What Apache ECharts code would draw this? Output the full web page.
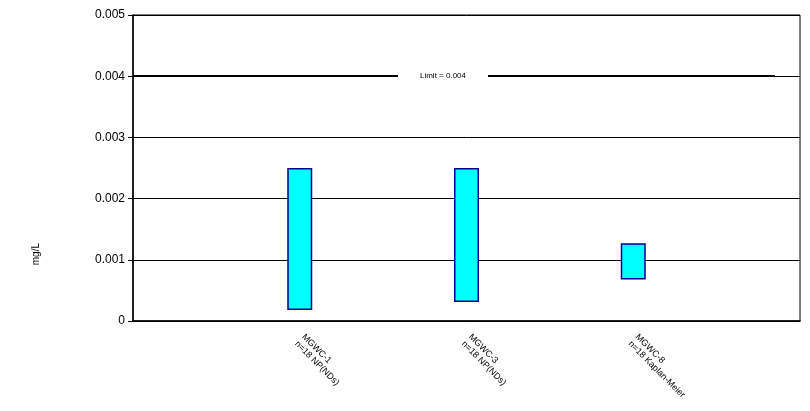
<!DOCTYPE html>
<html>
<head>
<meta charset="utf-8">
<script src="https://cdn.jsdelivr.net/npm/echarts@6/dist/echarts.min.js"></script>
<style>html,body{margin:0;padding:0;background:#fff}#c{width:810px;height:411px}</style>
</head>
<body>
<div id="c"></div>
<script>
// Data
var categories = ['', 'MGWC-1\nn=18 NP(NDs)', 'MGWC-3\nn=18 NP(NDs)', 'MGWC-8\nn=18 Kaplan-Meier', ''];
var lowValues  = [null, 0.00018, 0.00031, 0.00068, null];
var highValues = [null, 0.0025, 0.0025, 0.00127, null];
var limitValue = 0.004;
var limitStart = 0;
var limitEnd = 3.85;
var limitLabel = 'Limit = 0.004';
var yTicks = ['0', '0.001', '0.002', '0.003', '0.004', '0.005'];
var yAxisName = 'mg/L';

var rangeValues = highValues.map(function (h, i) {
  return (h == null || lowValues[i] == null) ? null : +(h - lowValues[i]).toFixed(6);
});

var chart = echarts.init(document.getElementById('c'), null, {renderer: 'canvas'});
var font = 'Liberation Sans, Arial, sans-serif';
chart.setOption({
  animation: false,
  backgroundColor: '#fff',
  textStyle: {fontFamily: font},
  grid: {left: 133, right: 10, top: 15, bottom: 90, show: true, borderColor: '#000', borderWidth: 1, backgroundColor: 'transparent'},
  xAxis: [{
    type: 'category',
    data: categories,
    boundaryGap: false,
    axisLine: {lineStyle: {color: '#000', width: 1.5}},
    axisTick: {show: false},
    axisLabel: {
      rotate: -45, fontSize: 9, color: '#000', margin: 18, fontFamily: font,
      interval: 0, align: 'left', lineHeight: 10
    },
    splitLine: {show: false}
  }, {
    type: 'value', min: 0, max: categories.length - 1, show: false
  }],
  yAxis: {
    type: 'value',
    min: 0, max: 0.005, interval: 0.001,
    axisLine: {show: true, lineStyle: {color: '#000', width: 1.5}},
    axisTick: {show: true, inside: false, length: 5, lineStyle: {color: '#000'}},
    axisLabel: {
      fontSize: 12, color: '#000', margin: 8, fontFamily: font,
      formatter: function (v) { return yTicks[Math.round(v / 0.001)]; }
    },
    splitLine: {show: true, lineStyle: {color: '#000', width: 1}}
  },
  graphic: [{
    type: 'text', left: 31, top: 243, rotation: Math.PI / 2,
    style: {text: yAxisName, fontSize: 10, fill: '#000', fontFamily: font}
  }],
  series: [{
    type: 'bar', stack: 'r', data: lowValues, barWidth: 25,
    itemStyle: {color: 'transparent'}, silent: true
  }, {
    type: 'bar', stack: 'r', data: rangeValues, barWidth: 25,
    itemStyle: {color: '#00FFFF', borderColor: '#000090', borderWidth: 1.5}
  }, {
    type: 'line', xAxisIndex: 1, data: [], silent: true,
    markLine: {
      symbol: 'none', silent: true,
      lineStyle: {color: '#000', width: 2, type: 'solid'},
      label: {
        show: true, position: 'insideMiddle', formatter: limitLabel, fontSize: 8, color: '#000',
        backgroundColor: '#fff', padding: [1, 22], fontFamily: font, distance: 0, offset: [-11, 0]
      },
      data: [[{coord: [limitStart, limitValue]}, {coord: [limitEnd, limitValue]}]]
    }
  }]
});
</script>
</body>
</html>
